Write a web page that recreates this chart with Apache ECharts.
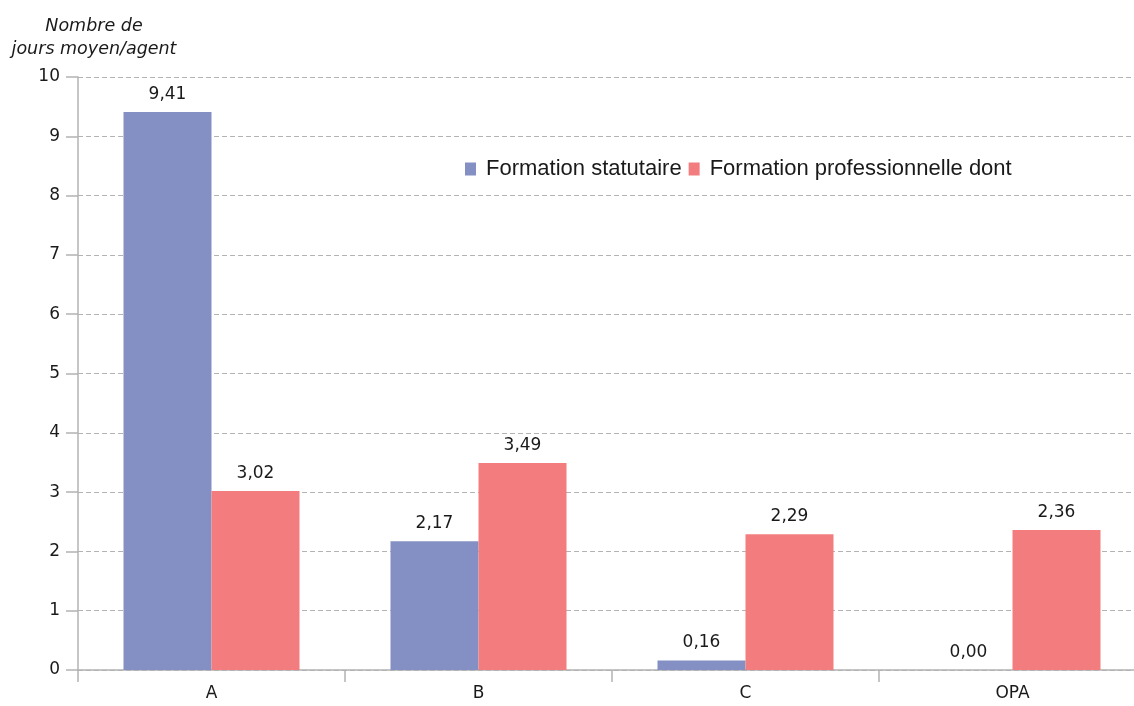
<!DOCTYPE html>
<html><head><meta charset="utf-8">
<script src="https://cdn.jsdelivr.net/npm/echarts@6/dist/echarts.min.js"></script>
<style>html,body{margin:0;padding:0;background:#fff}#c{width:1134px;height:706px}</style>
</head><body><div id="c"></div>
<script>
const categories = ['A', 'B', 'C', 'OPA'];
const statutaire = [9.41, 2.17, 0.16, 0.00];
const professionnelle = [3.02, 3.49, 2.29, 2.36];
const seriesNames = ['Formation statutaire', 'Formation professionnelle dont'];
const yTitle = 'Nombre de\njours moyen/agent';

const chart = echarts.init(document.getElementById('c'), null, {renderer: 'canvas'});
const font = 'DejaVu Sans';
const label = {show: true, position: 'top', distance: 9, color: '#1a1a1a', fontFamily: font, fontSize: 17,
  formatter: p => p.value.toFixed(2).replace('.', ',')};
chart.setOption({
  animation: false,
  textStyle: {fontFamily: font},
  legend: {left: 460, top: 153, itemWidth: 11, itemHeight: 13, itemGap: 7, icon: 'rect',
    textStyle: {fontFamily: 'Liberation Sans', fontSize: 22, color: '#1a1a1a', padding: [0,0,0,5]}},
  grid: {left: 78, top: 77, width: 1068, height: 593, containLabel: false, outerBoundsMode: 'none'},
  graphic: [{type: 'text', x: 94, y: 15, style: {text: yTitle, fontFamily: font, fontStyle: 'italic', fontSize: 17.5, fill: '#1a1a1a', lineHeight: 23, align: 'center'}}],
  xAxis: {type: 'category', data: categories,
    axisLine: {lineStyle: {color: '#b3b3b3', width: 1.5}},
    axisTick: {show: true, length: 12, lineStyle: {color: '#b3b3b3', width: 1.5}},
    axisLabel: {color: '#1a1a1a', fontSize: 17, margin: 15, fontFamily: font}},
  yAxis: {type: 'value', min: 0, max: 10, interval: 1,
    axisLine: {show: true, lineStyle: {color: '#b3b3b3', width: 1.5}},
    axisTick: {show: true, length: 12, lineStyle: {color: '#b3b3b3', width: 1.5}},
    axisLabel: {color: '#1a1a1a', fontSize: 17, margin: 18, fontFamily: font},
    splitLine: {lineStyle: {color: '#b3b3b3', type: [5, 3], width: 1.2}}},
  series: [
    {name: seriesNames[0], type: 'bar', data: statutaire, barWidth: 88, barGap: '0%',
     itemStyle: {color: '#8490c4'}, label},
    {name: seriesNames[1], type: 'bar', data: professionnelle, barWidth: 88,
     itemStyle: {color: '#f37c7e'}, label}
  ]
});
</script></body></html>
